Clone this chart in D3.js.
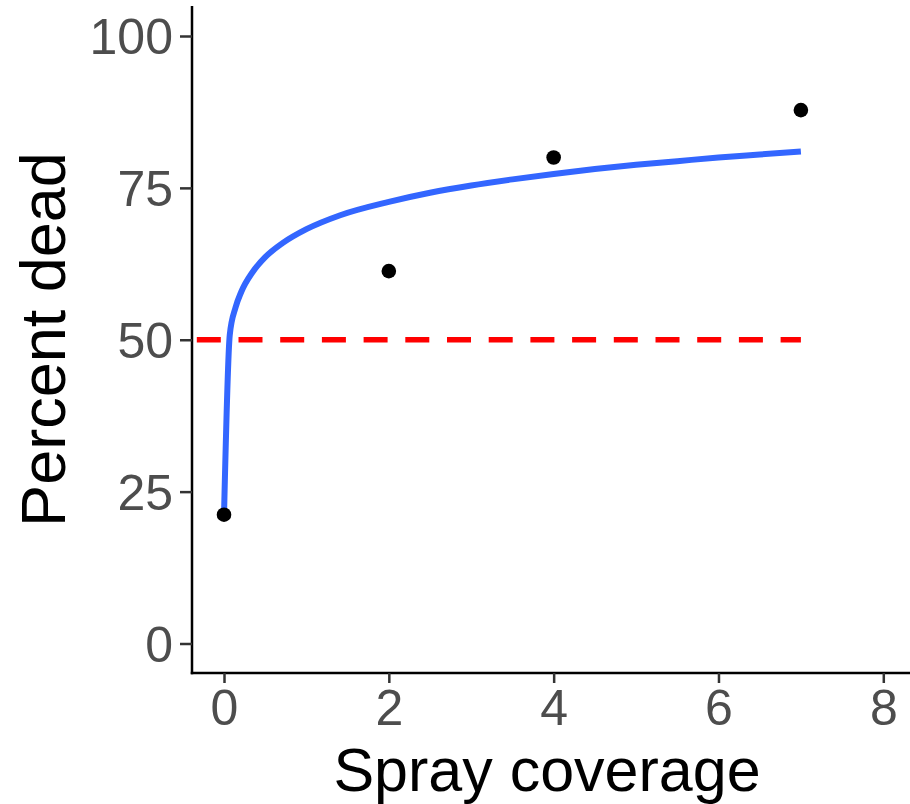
<!DOCTYPE html>
<html>
<head>
<meta charset="utf-8">
<script src="https://cdn.jsdelivr.net/npm/d3@7"></script>
<style>
  html, body { margin: 0; padding: 0; background: #ffffff; }
  svg { display: block; font-family: "Liberation Sans", Arial, Helvetica, sans-serif; }
</style>
</head>
<body>
<svg id="chart" width="910" height="804"></svg>
<script>
// Observed mortality at each spray coverage level
const coverage = [0, 2, 4, 7];
const percentDead = [21.2, 61.3, 80.0, 87.8];

// Fitted response curve (coverage, predicted percent dead)
const fitCoverage = [0, 0.07, 0.14, 0.21, 0.35, 0.5, 0.71, 1.0, 1.41, 2.0, 2.5, 3.0, 3.5, 4.0, 4.5, 5.0, 5.5, 6.0, 6.5, 7.0];
const fitPercent  = [21.0, 50.8, 55.3, 57.9, 61.2, 63.6, 65.9, 68.2, 70.5, 72.7, 74.2, 75.4, 76.4, 77.3, 78.1, 78.8, 79.4, 80.0, 80.5, 81.0];

// 50% mortality reference line
const thresholdLevel = 50;
const thresholdRange = [-0.33, 7];

// Axis ticks
const xTicks = [0, 2, 4, 6, 8];
const yTicks = [0, 25, 50, 75, 100];

const xLabel = "Spray coverage";
const yLabel = "Percent dead";

const svg = d3.select("#chart");

const panel = { left: 192, right: 910, top: 6, bottom: 673 };

const x = d3.scaleLinear().domain([0, 8]).range([224, 883.3]);
const y = d3.scaleLinear().domain([0, 100]).range([643.5, 36]);

// Axis lines
svg.append("line")
  .attr("x1", panel.left).attr("x2", panel.left)
  .attr("y1", panel.top).attr("y2", panel.bottom + 1.25)
  .attr("stroke", "#000").attr("stroke-width", 2.5);
svg.append("line")
  .attr("x1", panel.left - 1.25).attr("x2", panel.right)
  .attr("y1", panel.bottom).attr("y2", panel.bottom)
  .attr("stroke", "#000").attr("stroke-width", 2.5);

// Y axis ticks and labels
const yAxis = svg.append("g")
  .attr("transform", `translate(${panel.left},0)`)
  .call(d3.axisLeft(y).tickValues(yTicks).tickSize(12).tickPadding(7).tickFormat(d3.format("d")));
yAxis.select(".domain").remove();
yAxis.selectAll(".tick line").attr("stroke", "#333333").attr("stroke-width", 2.5);
yAxis.selectAll(".tick text")
  .attr("dy", "0.358em")
  .attr("fill", "#4D4D4D")
  .style("font-size", "50px")
  .style("font-family", "\"Liberation Sans\", Arial, sans-serif");

// X axis ticks and labels
const xAxis = svg.append("g")
  .attr("transform", `translate(0,${panel.bottom})`)
  .call(d3.axisBottom(x).tickValues(xTicks).tickSize(10).tickFormat(d3.format("d")));
xAxis.select(".domain").remove();
xAxis.selectAll(".tick line").attr("stroke", "#333333").attr("stroke-width", 2.5);
xAxis.selectAll(".tick text")
  .attr("y", 52)
  .attr("dy", 0)
  .attr("fill", "#4D4D4D")
  .style("font-size", "50px")
  .style("font-family", "\"Liberation Sans\", Arial, sans-serif");

// Axis titles
svg.append("text")
  .attr("x", (panel.left + panel.right) / 2 - 4)
  .attr("y", 791)
  .attr("text-anchor", "middle")
  .attr("fill", "#000")
  .style("font-size", "61px")
  .text(xLabel);

svg.append("text")
  .attr("transform", `translate(65,${(panel.top + panel.bottom) / 2}) rotate(-90)`)
  .attr("text-anchor", "middle")
  .attr("fill", "#000")
  .style("font-size", "63px")
  .text(yLabel);

// Reference line at 50%
svg.append("line")
  .attr("x1", x(thresholdRange[0])).attr("x2", x(thresholdRange[1]))
  .attr("y1", y(thresholdLevel)).attr("y2", y(thresholdLevel))
  .attr("stroke", "#FF0000")
  .attr("stroke-width", 5.5)
  .attr("stroke-dasharray", "24,17.7");

// Fitted curve
const fit = fitCoverage.map((c, i) => ({ c, p: fitPercent[i] }));
svg.append("path")
  .datum(fit)
  .attr("fill", "none")
  .attr("stroke", "#3366FF")
  .attr("stroke-width", 6)
  .attr("d", d3.line().x(d => x(d.c)).y(d => y(d.p)).curve(d3.curveMonotoneX));

// Observed points
const obs = coverage.map((c, i) => ({ c, p: percentDead[i] }));
svg.append("g").selectAll("circle")
  .data(obs)
  .join("circle")
  .attr("cx", d => x(d.c))
  .attr("cy", d => y(d.p))
  .attr("r", 7.3)
  .attr("fill", "#000");
</script>
</body>
</html>
